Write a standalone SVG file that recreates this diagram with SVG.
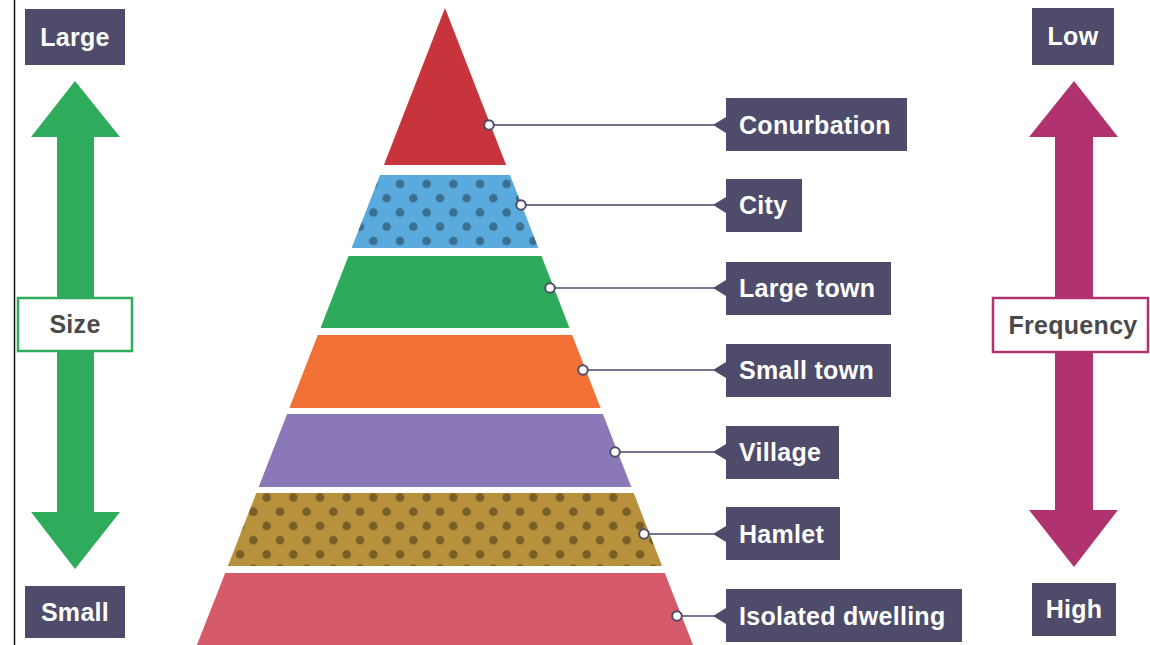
<svg xmlns="http://www.w3.org/2000/svg" width="1150" height="645" viewBox="0 0 1150 645">
  <style>
    .lbl { fill: #4e4c6a; }
    .lt { font-family: "Liberation Sans", Arial, sans-serif; font-weight: bold; font-size: 25px; letter-spacing: 0.3px; fill: #ffffff; }
    .ct { text-anchor: middle; }
    .axis { font-family: "Liberation Sans", Arial, sans-serif; font-weight: bold; font-size: 25px; letter-spacing: 0.3px; fill: #4a4a4a; text-anchor: middle; }
    .conn { stroke: #75758e; stroke-width: 2; fill: none; }
    .pin { fill: #ffffff; stroke: #4e4c6a; stroke-width: 2; }
    .dots { fill: url(#dotPattern); }
  </style>
  <defs>
    <!-- staggered dot texture laid over the patterned bands -->
    <pattern id="dotPattern" patternUnits="userSpaceOnUse" x="393.33" y="176.9" width="26.667" height="28.5">
      <circle cx="6.667" cy="7.1" r="4.3" fill="#000000" fill-opacity="0.35"/>
      <circle cx="20" cy="21.35" r="4.3" fill="#000000" fill-opacity="0.35"/>
    </pattern>
  </defs>

  <rect width="1150" height="645" fill="#ffffff"/>
  <line x1="14.5" y1="0" x2="14.5" y2="645" stroke="#111111" stroke-width="1.5"/>

  <!-- size scale -->
  <g id="size-arrow">
    <polygon points="75,81 120,137 94,137 94,512 120,512 75,569 31,512 57,512 57,137 31,137" fill="#2fac5b"/>
  </g>
  <g id="size-large">
    <rect x="25" y="9" width="100" height="56" class="lbl"/>
    <text x="75" y="46" class="lt ct">Large</text>
  </g>
  <g id="size-small">
    <rect x="25" y="586" width="100" height="52" class="lbl"/>
    <text x="75" y="621" class="lt ct">Small</text>
  </g>
  <g id="size-label">
    <rect x="18" y="298" width="114" height="53" fill="#ffffff" stroke="#2fac5b" stroke-width="2.5"/>
    <text x="75" y="333" class="axis">Size</text>
  </g>

  <!-- frequency scale -->
  <g id="frequency-arrow">
    <polygon points="1074,81 1118,137 1093,137 1093,510 1118,510 1074,567 1029,510 1055,510 1055,137 1029,137" fill="#b0336f"/>
  </g>
  <g id="frequency-low">
    <rect x="1032" y="8" width="82" height="57" class="lbl"/>
    <text x="1073" y="45" class="lt ct">Low</text>
  </g>
  <g id="frequency-high">
    <rect x="1032" y="583" width="84" height="53" class="lbl"/>
    <text x="1074" y="618" class="lt ct">High</text>
  </g>
  <g id="frequency-label">
    <rect x="993" y="298" width="155" height="54" fill="#ffffff" stroke="#b0336f" stroke-width="2.5"/>
    <text x="1073" y="334" class="axis">Frequency</text>
  </g>

  <!-- settlement hierarchy pyramid -->
  <g id="band-conurbation">
    <polygon points="445,8 506.1,165 383.9,165" fill="#c8343b"/>
  </g>
  <g id="band-city">
    <polygon points="380,175 510,175 538.4,248 351.6,248" fill="#5aaadd"/>
    <polygon points="380,175 510,175 538.4,248 351.6,248" class="dots"/>
  </g>
  <g id="band-large-town">
    <polygon points="348.5,256 541.5,256 569.5,328 320.5,328" fill="#2daa5a"/>
  </g>
  <g id="band-small-town">
    <polygon points="317.8,335 572.2,335 600.6,408 289.4,408" fill="#f07035"/>
  </g>
  <g id="band-village">
    <polygon points="287.1,414 602.9,414 631.3,487 258.7,487" fill="#8b78b8"/>
  </g>
  <g id="band-hamlet">
    <polygon points="256.3,493 633.7,493 662.1,566 227.9,566" fill="#b8913c"/>
    <polygon points="256.3,493 633.7,493 662.1,566 227.9,566" class="dots"/>
  </g>
  <g id="band-isolated-dwelling">
    <polygon points="225.2,573 664.8,573 695,650 195,650" fill="#d55b6a"/>
  </g>

  <!-- leader lines from bands to labels -->
  <g id="connectors">
    <line x1="489" y1="125" x2="714" y2="125" class="conn"/>
    <line x1="521" y1="205" x2="714" y2="205" class="conn"/>
    <line x1="550" y1="288" x2="714" y2="288" class="conn"/>
    <line x1="583" y1="370" x2="714" y2="370" class="conn"/>
    <line x1="615" y1="452" x2="714" y2="452" class="conn"/>
    <line x1="644" y1="534" x2="714" y2="534" class="conn"/>
    <line x1="677" y1="616" x2="714" y2="616" class="conn"/>
    <circle cx="489" cy="125" r="4.8" class="pin"/>
    <circle cx="521" cy="205" r="4.8" class="pin"/>
    <circle cx="550" cy="288" r="4.8" class="pin"/>
    <circle cx="583" cy="370" r="4.8" class="pin"/>
    <circle cx="615" cy="452" r="4.8" class="pin"/>
    <circle cx="644" cy="534" r="4.8" class="pin"/>
    <circle cx="677" cy="616" r="4.8" class="pin"/>
  </g>

  <!-- labels with pointer notch -->
  <g id="label-conurbation">
    <path d="M726,98 H907 V151 H726 V133 L713,125 L726,117 Z" class="lbl"/>
    <text x="739" y="134" class="lt">Conurbation</text>
  </g>
  <g id="label-city">
    <path d="M726,179 H802 V232 H726 V213 L713,205 L726,197 Z" class="lbl"/>
    <text x="739" y="214" class="lt">City</text>
  </g>
  <g id="label-large-town">
    <path d="M726,262 H891 V315 H726 V296 L713,288 L726,280 Z" class="lbl"/>
    <text x="739" y="297" class="lt">Large town</text>
  </g>
  <g id="label-small-town">
    <path d="M726,344 H891 V397 H726 V378 L713,370 L726,362 Z" class="lbl"/>
    <text x="739" y="379" class="lt">Small town</text>
  </g>
  <g id="label-village">
    <path d="M726,426 H839 V479 H726 V460 L713,452 L726,444 Z" class="lbl"/>
    <text x="739" y="461" class="lt">Village</text>
  </g>
  <g id="label-hamlet">
    <path d="M726,507 H840 V560 H726 V542 L713,534 L726,526 Z" class="lbl"/>
    <text x="739" y="543" class="lt">Hamlet</text>
  </g>
  <g id="label-isolated-dwelling">
    <path d="M726,589 H962 V642 H726 V624 L713,616 L726,608 Z" class="lbl"/>
    <text x="739" y="625" class="lt">Isolated dwelling</text>
  </g>
</svg>
